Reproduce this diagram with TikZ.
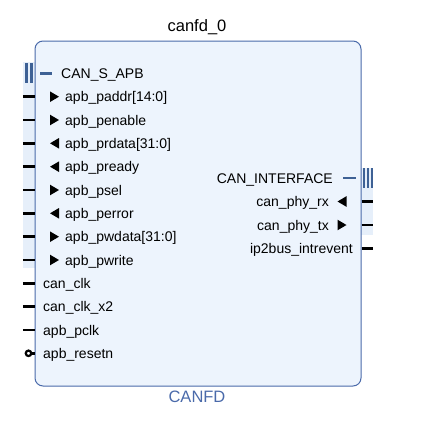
\documentclass[tikz,border=0pt]{standalone}
\usepackage{fontspec}
\setmainfont{Liberation Sans}
\usepackage{tikz}
\definecolor{blockblue}{HTML}{4A6AAA}
\definecolor{blockfill}{HTML}{EDF4FD}
\definecolor{busblue}{HTML}{3E6195}
\definecolor{bandfill}{HTML}{E6EFFA}
\tikzset{
  ipblock/.style={draw=blockblue,fill=blockfill,rounded corners=8pt,line width=1pt,minimum width=326pt,minimum height=345pt,inner sep=0pt},
  pinband/.style={fill=bandfill,inner sep=0pt},
  pinlabel/.style={inner sep=0pt,text height=10pt,text depth=0pt,font=\fontsize{14}{17}\selectfont},
  triin/.pic={\fill[black] (-4.5,-5.3) -- (4.5,0) -- (-4.5,5.3) -- cycle;},
  triout/.pic={\fill[black] (4.5,-5.3) -- (-4.5,0) -- (4.5,5.3) -- cycle;},
  pin/.style={line width=2.5pt},
  bubble/.style={circle,draw=black,line width=2.2pt,fill=white,inner sep=0pt,minimum size=5.5pt},
  busbar/.style={draw=busblue,line width=2.6pt},
  busdash/.style={draw=busblue,line width=2.6pt},
  titletext/.style={font=\fontsize{16.5}{19}\selectfont},
}

\begin{document}
\begin{tikzpicture}[x=1pt,y=-1pt]
			\useasboundingbox (0,0) rectangle (448,442);
			\node[pinband,minimum width=12pt,minimum height=206pt] (lband) at (29,165) {};
			\node[pinband,minimum width=12pt,minimum height=67pt] (rband) at (367,201.5) {};
			\node[ipblock] (blk) at (198,213.5) {};
			\node[titletext] (inst) at (197,27) {canfd\_0};
			\node[titletext,text=blockblue] (ipname) at (197,397) {CANFD};
			% left bus interface
			\draw[busbar] (26.5,63) -- (26.5,83);
			\draw[busbar] (31.5,63) -- (31.5,83);
			\draw[busdash] (40,73.3) -- (52,73.3);
			\node[pinlabel,anchor=west] (sapb) at (61,73.3) {CAN\_S\_APB};
			\node[pinlabel,anchor=west] (paddr) at (65,96.7) {apb\_paddr[14:0]};
			\node[pinlabel,anchor=west] (penable) at (65,120) {apb\_penable};
			\node[pinlabel,anchor=west] (prdata) at (65,143.3) {apb\_prdata[31:0]};
			\node[pinlabel,anchor=west] (pready) at (65,166.7) {apb\_pready};
			\node[pinlabel,anchor=west] (psel) at (65,190) {apb\_psel};
			\node[pinlabel,anchor=west] (perror) at (65,213.3) {apb\_perror};
			\node[pinlabel,anchor=west] (pwdata) at (65,236.7) {apb\_pwdata[31:0]};
			\node[pinlabel,anchor=west] (pwrite) at (65,260) {apb\_pwrite};
			\pic at (54.5,96.7) {triin};
			\pic at (54.5,120) {triin};
			\pic at (54.5,143.3) {triout};
			\pic at (54.5,166.7) {triout};
			\pic at (54.5,190) {triin};
			\pic at (54.5,213.3) {triout};
			\pic at (54.5,236.7) {triin};
			\pic at (54.5,260) {triin};
			\draw[pin] (paddr.west -| lband.west) -- (paddr.west -| blk.west);
			\draw[pin] (penable.west -| lband.west) -- (penable.west -| blk.west);
			\draw[pin] (prdata.west -| lband.west) -- (prdata.west -| blk.west);
			\draw[pin] (pready.west -| lband.west) -- (pready.west -| blk.west);
			\draw[pin] (psel.west -| lband.west) -- (psel.west -| blk.west);
			\draw[pin] (perror.west -| lband.west) -- (perror.west -| blk.west);
			\draw[pin] (pwdata.west -| lband.west) -- (pwdata.west -| blk.west);
			\draw[pin] (pwrite.west -| lband.west) -- (pwrite.west -| blk.west);
			% clocks and reset
			\node[pinlabel,anchor=west] (canclk) at (43,283.3) {can\_clk};
			\node[pinlabel,anchor=west] (canclkx) at (43,306.7) {can\_clk\_x2};
			\node[pinlabel,anchor=west] (pclk) at (43,330) {apb\_pclk};
			\node[pinlabel,anchor=west] (resetn) at (43,353.3) {apb\_resetn};
			\draw[pin] (canclk.west -| lband.west) -- (canclk.west -| blk.west);
			\draw[pin] (canclkx.west -| lband.west) -- (canclkx.west -| blk.west);
			\draw[pin] (pclk.west -| lband.west) -- (pclk.west -| blk.west);
			\node[bubble] (rstb) at (28.5,353.3) {};
			\draw[pin] (rstb.east) -- (rstb -| blk.west);
			% right interface
			\draw[busbar,line width=2.2pt] (363.7,168) -- (363.7,188);
			\draw[busbar,line width=2.2pt] (367.8,168) -- (367.8,188);
			\draw[busbar,line width=2.2pt] (371.6,168) -- (371.6,188);
			\draw[busdash] (343,178) -- (356,178);
			\node[pinlabel,anchor=east] (canif) at (333,178) {CAN\_INTERFACE};
			\node[pinlabel,anchor=east] (phyrx) at (329,201.5) {can\_phy\_rx};
			\node[pinlabel,anchor=east] (phytx) at (329,225) {can\_phy\_tx};
			\node[pinlabel,anchor=east] (intr) at (353,248.3) {ip2bus\_intrevent};
			\pic at (342,201.5) {triout};
			\pic at (342,225) {triin};
			\draw[pin] (phyrx.east -| blk.east) -- (phyrx.east -| rband.east);
			\draw[pin] (phytx.east -| blk.east) -- (phytx.east -| rband.east);
			\draw[pin] (intr.east -| blk.east) -- (intr.east -| rband.east);
		\end{tikzpicture}
\end{document}
